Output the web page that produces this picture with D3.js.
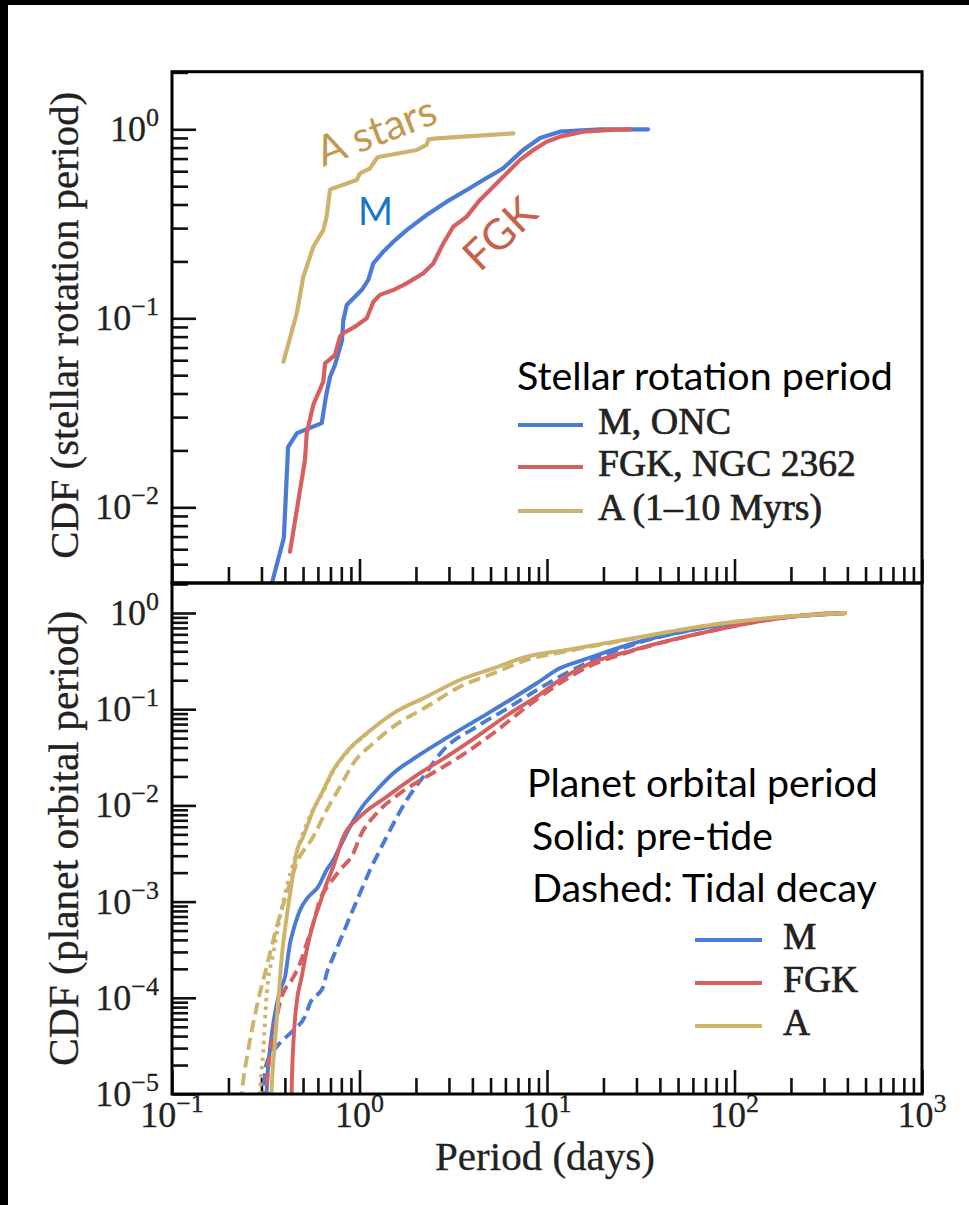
<!DOCTYPE html>
<html><head><meta charset="utf-8">
<script src="https://cdn.jsdelivr.net/npm/d3@7"></script>
<style>body{margin:0;background:#fff} svg{display:block}</style>
</head><body>
<svg id="chart" width="969" height="1205"></svg>
<script>
// ---------------- DATA ----------------
// Top panel: stellar rotation period CDFs
const rotM_P = [0.33, 0.395, 0.416, 0.464, 0.629, 0.663, 0.696, 0.740, 0.807, 0.820, 0.855, 0.966, 1.027, 1.114, 1.185, 1.339, 1.514, 1.785, 2.28, 2.92, 3.73, 4.57, 5.84, 7.45, 9.19, 11.7, 19.2, 34.6];
const rotM_C = [0.0035, 0.0069, 0.0208, 0.0247, 0.0279, 0.0388, 0.0489, 0.0566, 0.0767, 0.098, 0.1175, 0.1328, 0.141, 0.1595, 0.1954, 0.225, 0.254, 0.293, 0.352, 0.414, 0.477, 0.539, 0.622, 0.777, 0.899, 0.971, 1.0, 1.0];
const rotFGK_P = [0.426, 0.472, 0.512, 0.523, 0.567, 0.641, 0.655, 0.740, 0.787, 0.820, 0.946, 1.093, 1.185, 1.285, 1.514, 1.785, 2.19, 2.475, 2.80, 3.16, 3.73, 4.39, 5.17, 6.10, 7.18, 8.46, 9.96, 11.7, 15.6, 20.8, 27.7];
const rotFGK_C = [0.00582, 0.0109, 0.0178, 0.0246, 0.0348, 0.0462, 0.0578, 0.064, 0.080, 0.0833, 0.0903, 0.100, 0.122, 0.133, 0.141, 0.153, 0.173, 0.195, 0.249, 0.305, 0.345, 0.423, 0.497, 0.585, 0.689, 0.777, 0.860, 0.914, 0.971, 0.990, 1.0];
const rotA_P = [0.393, 0.463, 0.5015, 0.523, 0.567, 0.641, 0.668, 0.696, 0.725, 0.966, 1.006, 1.138, 1.236, 1.285, 2.02, 2.28, 2.33, 2.58, 6.61];
const rotA_C = [0.0589, 0.1063, 0.166, 0.1875, 0.239, 0.293, 0.345, 0.479, 0.488, 0.539, 0.585, 0.622, 0.703, 0.716, 0.777, 0.826, 0.885, 0.896, 0.952];

// Bottom panel: planet orbital period CDFs (solid: pre-tide, dashed: tidal decay)
const orbM_P = [0.318, 0.320, 0.333, 0.347, 0.377, 0.401, 0.426, 0.444, 0.482, 0.534, 0.603, 0.668, 0.725, 0.787, 0.890, 1.006, 1.236, 1.514, 2.02, 2.80, 4.22, 6.35, 8.81, 11.7, 15.6, 28.8, 65.4, 148.6, 396];
const orbM_C = [8e-6, 1.1e-5, 2.9e-5, 5.4e-5, 1.2e-4, 1.66e-4, 3.68e-4, 5.07e-4, 8.2e-4, 1.12e-3, 1.43e-3, 2.13e-3, 2.71e-3, 3.72e-3, 6.0e-3, 8.95e-3, 0.01445, 0.0216, 0.0321, 0.0479, 0.0773, 0.1247, 0.186, 0.266, 0.325, 0.484, 0.693, 0.867, 1.0];
const orbMtide_P = [0.305, 0.307, 0.320, 0.362, 0.444, 0.512, 0.545, 0.641, 0.668, 0.725, 0.803, 0.890, 1.006, 1.138, 1.285, 1.396, 1.785, 2.19, 2.80, 4.22, 6.35, 8.81, 11.7, 28.8, 65.4, 148.6, 396];
const orbMtide_C = [8e-6, 1.1e-5, 2.1e-5, 3.1e-5, 4.6e-5, 6.4e-5, 8.8e-5, 1.3e-4, 1.8e-4, 2.67e-4, 4.3e-4, 6.97e-4, 1.22e-3, 2.13e-3, 3.44e-3, 4.73e-3, 0.01138, 0.01987, 0.0377, 0.0658, 0.106, 0.158, 0.218, 0.47, 0.69, 0.867, 1.0];
const orbFGK_P = [0.4345, 0.435, 0.444, 0.462, 0.492, 0.523, 0.567, 0.615, 0.668, 0.725, 0.820, 1.006, 1.396, 2.10, 2.92, 4.22, 6.35, 8.81, 11.7, 15.6, 28.8, 65.4, 148.6, 336, 396];
const orbFGK_C = [8e-6, 1.1e-5, 3.37e-5, 8.77e-5, 1.66e-4, 3.14e-4, 5.95e-4, 9.6e-4, 1.55e-3, 2.31e-3, 4.73e-3, 7.63e-3, 0.0123, 0.0216, 0.0321, 0.0518, 0.0907, 0.135, 0.201, 0.277, 0.412, 0.615, 0.846, 0.993, 1.0];
const orbFGKtide_P = [0.316, 0.318, 0.354, 0.385, 0.435, 0.482, 0.523, 0.567, 0.615, 0.696, 0.787, 0.927, 1.006, 1.236, 1.644, 2.28, 3.43, 5.17, 7.80, 11.7, 15.6, 28.8, 65.4, 148.6, 336, 396];
const orbFGKtide_C = [8e-6, 1.0e-5, 5.0e-5, 1.03e-4, 1.53e-4, 2.28e-4, 3.68e-4, 5.95e-4, 1.04e-3, 1.55e-3, 2.13e-3, 3.18e-3, 4.73e-3, 8.28e-3, 0.01336, 0.01987, 0.0321, 0.0562, 0.106, 0.186, 0.26, 0.405, 0.612, 0.846, 0.993, 1.0];
const orbA_P = [0.338, 0.340, 0.354, 0.369, 0.385, 0.409, 0.435, 0.463, 0.501, 0.567, 0.641, 0.725, 0.855, 1.093, 1.514, 2.28, 3.43, 5.17, 7.80, 12.7, 28.8, 65.4, 148.6, 396];
const orbA_C = [8e-6, 1.1e-5, 3.37e-5, 9.5e-5, 2.67e-4, 6.97e-4, 1.55e-3, 3.3e-3, 4.73e-3, 8.95e-3, 0.01445, 0.0233, 0.0362, 0.0561, 0.0907, 0.135, 0.201, 0.266, 0.352, 0.412, 0.546, 0.721, 0.881, 1.0];
const orbAtide_P = [0.233, 0.2355, 0.255, 0.283, 0.320, 0.362, 0.409, 0.462, 0.567, 0.668, 0.787, 0.927, 1.185, 1.514, 2.28, 3.43, 5.17, 7.80, 12.7, 28.8, 65.4, 148.6, 396];
const orbAtide_C = [8e-6, 1.0e-5, 2.87e-5, 8.07e-5, 2.11e-4, 5.48e-4, 1.22e-3, 2.5e-3, 4.73e-3, 8.95e-3, 0.0156, 0.0274, 0.0442, 0.0658, 0.106, 0.171, 0.236, 0.325, 0.40, 0.540, 0.721, 0.881, 1.0];
const orbAdot_P = [0.293, 0.2946, 0.307, 0.320, 0.347, 0.377, 0.409, 0.444, 0.482, 0.55, 0.641, 0.725, 0.855, 1.093];
const orbAdot_C = [8e-6, 1.0e-5, 2.87e-5, 1.11e-4, 2.9e-4, 6.97e-4, 1.43e-3, 2.5e-3, 4.2e-3, 8.0e-3, 0.0140, 0.0228, 0.0355, 0.0555];

const xTickExp = [-1, 0, 1, 2, 3];
const yTopTickExp = [-2, -1, 0];
const yBotTickExp = [-5, -4, -3, -2, -1, 0];

const topLegend = ["M, ONC", "FGK, NGC 2362", "A (1–10 Myrs)"];
const botLegend = ["M", "FGK", "A"];

const COL = {M: "#4a7bd6", FGK: "#d65f5f", A: "#cdb36b"};
const ANN = {A: "#c29a4f", M: "#1677c4", FGK: "#c9604b"};

// ---------------- LAYOUT ----------------
const W = 969, H = 1205;
const L = 172, R = 922, T1 = 71.7, B1 = 583, T2 = 583, B2 = 1094;
const svg = d3.select('#chart');
const SERIF = "'Liberation Serif', 'DejaVu Serif', serif";
const SANS = "Lato, 'Noto Sans', sans-serif";

svg.append('rect').attr('x', 0).attr('y', 0).attr('width', W).attr('height', H).attr('fill', '#fff');
svg.append('rect').attr('x', 0).attr('y', 0).attr('width', W).attr('height', 5).attr('fill', '#000');
svg.append('rect').attr('x', 0).attr('y', 0).attr('width', 8).attr('height', H).attr('fill', '#000');

const x = d3.scaleLog().domain([0.1, 1000]).range([L, R]);
const yTop = d3.scaleLog().domain([0.003976, 2.017]).range([B1, T1]);
const yBot = d3.scaleLog().domain([1e-5, 2.05]).range([B2, T2]);

function logTicks(scale, major) {
  const [lo, hi] = scale.domain();
  const out = [];
  for (let e = Math.floor(Math.log10(lo)); e <= Math.ceil(Math.log10(hi)); e++) {
    for (let m = 1; m <= 9; m++) {
      if ((m === 1) !== major) continue;
      const v = m * Math.pow(10, e);
      if (v >= lo * 0.9999 && v <= hi * 1.0001) out.push(v);
    }
  }
  return out;
}

// clip paths
const defs = svg.append('defs');
defs.append('clipPath').attr('id', 'clipTop').append('rect').attr('x', L).attr('y', T1).attr('width', R - L).attr('height', B1 - T1);
defs.append('clipPath').attr('id', 'clipBot').append('rect').attr('x', L).attr('y', T2).attr('width', R - L).attr('height', B2 - T2);

function axes(yScale, top, bottom) {
  const gx = svg.append('g').attr('transform', `translate(0,${bottom})`);
  gx.call(d3.axisBottom(x).tickValues(logTicks(x, true)).tickSize(-24).tickFormat(''));
  const gx2 = svg.append('g').attr('transform', `translate(0,${bottom})`);
  gx2.call(d3.axisBottom(x).tickValues(logTicks(x, false)).tickSize(-16).tickFormat(''));
  const gy = svg.append('g').attr('transform', `translate(${L},0)`);
  gy.call(d3.axisLeft(yScale).tickValues(logTicks(yScale, true)).tickSize(-24).tickFormat(''));
  const gy2 = svg.append('g').attr('transform', `translate(${L},0)`);
  gy2.call(d3.axisLeft(yScale).tickValues(logTicks(yScale, false)).tickSize(-16).tickFormat(''));
  [gx, gx2, gy, gy2].forEach(g => {
    g.select('.domain').remove();
    g.selectAll('.tick line').attr('stroke', '#111').attr('stroke-width', 2.6);
  });
}
axes(yTop, T1, B1);
axes(yBot, T2, B2);

function powLabel(g, px, py, e, anchor) {
  const t = g.append('text').attr('x', px).attr('y', py).attr('text-anchor', anchor)
    .attr('font-family', SERIF).attr('font-size', 36).attr('fill', '#222')
    .attr('stroke', '#222').attr('stroke-width', 0.3).text('10');
  t.append('tspan').attr('dy', -15).attr('font-size', 26).text(e < 0 ? '\u2212' + (-e) : String(e));
}
const lab = svg.append('g');
xTickExp.forEach(e => powLabel(lab, x(Math.pow(10, e)), 1127, e, 'middle'));
yTopTickExp.forEach(e => powLabel(lab, 159, yTop(Math.pow(10, e)) + 12, e, 'end'));
yBotTickExp.forEach(e => powLabel(lab, 159, yBot(Math.pow(10, e)) + 12, e, 'end'));

function fit(t, w) {
  const fs = parseFloat(t.attr('font-size'));
  const len = t.node().getComputedTextLength();
  t.attr('font-size', fs * w / len);
  return t;
}

// axis titles
fit(svg.append('text').attr('x', 545).attr('y', 1170).attr('text-anchor', 'middle')
  .attr('font-family', SERIF).attr('font-size', 36).attr('fill', '#222').attr('stroke', '#222').attr('stroke-width', 0.3)
  .text('Period (days)'), 220);
fit(svg.append('text').attr('transform', `translate(78,${(T1 + B1) / 2 - 2}) rotate(-90)`).attr('text-anchor', 'middle')
  .attr('font-family', SERIF).attr('font-size', 36).attr('fill', '#222').attr('stroke', '#222').attr('stroke-width', 0.3)
  .text('CDF (stellar rotation period)'), 467);
fit(svg.append('text').attr('transform', `translate(78,${(T2 + B2) / 2}) rotate(-90)`).attr('text-anchor', 'middle')
  .attr('font-family', SERIF).attr('font-size', 36).attr('fill', '#222').attr('stroke', '#222').attr('stroke-width', 0.3)
  .text('CDF (planet orbital period)'), 455);

// ---------------- LINES ----------------
const zip = (P, C) => P.map((p, i) => [p, C[i]]);
const lineTop = d3.line().x(d => x(d[0])).y(d => yTop(d[1]));
const lineBot = d3.line().x(d => x(d[0])).y(d => yBot(d[1])).curve(d3.curveMonotoneX);

const gTop = svg.append('g').attr('clip-path', 'url(#clipTop)');
[[rotM_P, rotM_C, COL.M], [rotFGK_P, rotFGK_C, COL.FGK], [rotA_P, rotA_C, COL.A]].forEach(([P, C, c]) => {
  gTop.append('path').datum(zip(P, C)).attr('d', lineTop).attr('fill', 'none')
    .attr('stroke', c).attr('stroke-width', 4.2).attr('stroke-linejoin', 'round').attr('stroke-linecap', 'round');
});

const gBot = svg.append('g').attr('clip-path', 'url(#clipBot)');
[
  [orbM_P, orbM_C, COL.M, null],
  [orbMtide_P, orbMtide_C, COL.M, '12,6'],
  [orbFGK_P, orbFGK_C, COL.FGK, null],
  [orbFGKtide_P, orbFGKtide_C, COL.FGK, '12,6'],
  [orbA_P, orbA_C, COL.A, null],
  [orbAtide_P, orbAtide_C, COL.A, '12,6'],
  [orbAdot_P, orbAdot_C, COL.A, '3.5,5']
].forEach(([P, C, c, dash]) => {
  const p = gBot.append('path').datum(zip(P, C)).attr('d', lineBot).attr('fill', 'none')
    .attr('stroke', c).attr('stroke-width', 3.9).attr('stroke-linejoin', 'round');
  if (dash) p.attr('stroke-dasharray', dash);
});

// frames
svg.append('rect').attr('x', L).attr('y', T1).attr('width', R - L).attr('height', B1 - T1)
  .attr('fill', 'none').attr('stroke', '#000').attr('stroke-width', 3);
svg.append('rect').attr('x', L).attr('y', T2).attr('width', R - L).attr('height', B2 - T2)
  .attr('fill', 'none').attr('stroke', '#000').attr('stroke-width', 3);

// ---------------- ANNOTATIONS ----------------
fit(svg.append('text').attr('transform', 'translate(323,167) rotate(-21)')
  .attr('font-family', SANS).attr('font-size', 40).attr('fill', ANN.A).text('A stars'), 125);
fit(svg.append('text').attr('x', 358).attr('y', 225)
  .attr('font-family', SANS).attr('font-size', 38).attr('fill', ANN.M).text('M'), 35);
fit(svg.append('text').attr('transform', 'translate(480,273) rotate(-43.5)')
  .attr('font-family', SANS).attr('font-size', 40).attr('fill', ANN.FGK).text('FGK'), 83);

// ---------------- LEGENDS ----------------
fit(svg.append('text').attr('x', 517).attr('y', 390).attr('font-family', SANS).attr('font-size', 34)
  .attr('fill', '#000').text('Stellar rotation period'), 376);
const topCols = [COL.M, COL.FGK, COL.A];
const topY = [425, 467, 511];
const topW = [133, 258, 224];
let legFs = 26;
topLegend.forEach((s, i) => {
  svg.append('line').attr('x1', 518).attr('x2', 583).attr('y1', topY[i]).attr('y2', topY[i])
    .attr('stroke', topCols[i]).attr('stroke-width', 4.2);
  const t = fit(svg.append('text').attr('x', 598).attr('y', topY[i] + 9).attr('font-family', SERIF)
    .attr('font-size', 26).attr('fill', '#222').attr('stroke', '#222').attr('stroke-width', 0.7).text(s), topW[i]);
  if (i === 1) legFs = parseFloat(t.attr('font-size'));
});

fit(svg.append('text').attr('x', 527).attr('y', 797).attr('font-family', SANS).attr('font-size', 34)
  .attr('fill', '#000').text('Planet orbital period'), 351);
fit(svg.append('text').attr('x', 532).attr('y', 850).attr('font-family', SANS).attr('font-size', 34)
  .attr('fill', '#000').text('Solid: pre-tide'), 241);
fit(svg.append('text').attr('x', 532).attr('y', 902).attr('font-family', SANS).attr('font-size', 34)
  .attr('fill', '#000').text('Dashed: Tidal decay'), 345);
const botY = [940, 983, 1026];
botLegend.forEach((s, i) => {
  svg.append('line').attr('x1', 695).attr('x2', 762).attr('y1', botY[i]).attr('y2', botY[i])
    .attr('stroke', topCols[i]).attr('stroke-width', 4.2);
  svg.append('text').attr('x', 783).attr('y', botY[i] + 9).attr('font-family', SERIF)
    .attr('font-size', legFs).attr('fill', '#222').attr('stroke', '#222').attr('stroke-width', 0.7).text(s);
});
</script></body></html>
